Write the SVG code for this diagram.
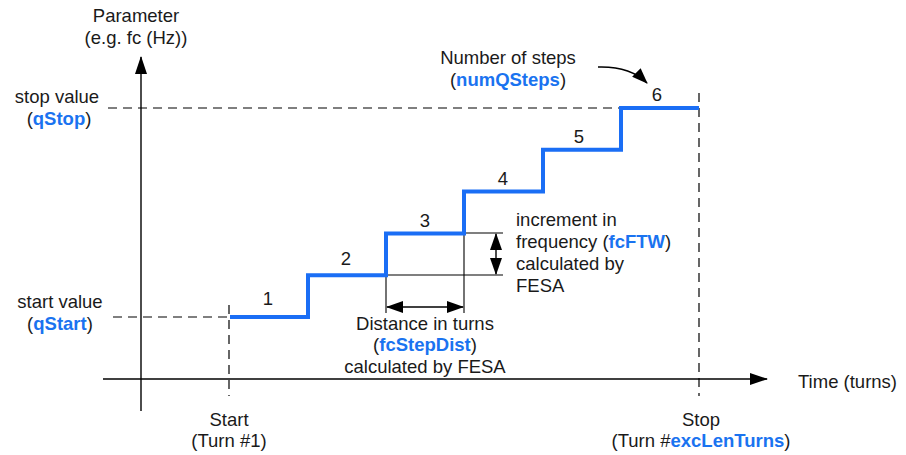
<svg xmlns="http://www.w3.org/2000/svg" width="906" height="455" viewBox="0 0 906 455">
  <defs>
    <style>
      text { font-family: "Liberation Sans", Arial, sans-serif; font-size: 18.5px; fill: #1a1a1a; }
      .mid { text-anchor: middle; }
      .hl { fill: #1a73f0; font-weight: bold; }
      .axis { stroke: #000; stroke-width: 1.4; fill: none; }
      .dash { stroke: #000; stroke-width: 1.2; stroke-dasharray: 9 6; fill: none; }
      .thin { stroke: #000; stroke-width: 1.1; fill: none; }
      .steps { stroke: #1a6ef5; stroke-width: 4; fill: none; stroke-linejoin: miter; }
      .dim { stroke: #000; stroke-width: 1.4; fill: none; marker-start: url(#head-s); marker-end: url(#head); }
    </style>
    <marker id="axhead" markerWidth="18" markerHeight="12" refX="17" refY="6" orient="auto" markerUnits="userSpaceOnUse">
      <polygon points="0,0 18,6 0,12" fill="#000"/>
    </marker>
    <marker id="head" markerWidth="17" markerHeight="12" refX="16" refY="6" orient="auto" markerUnits="userSpaceOnUse">
      <polygon points="0,0 17,6 0,12" fill="#000"/>
    </marker>
    <marker id="head-s" markerWidth="17" markerHeight="12" refX="1" refY="6" orient="auto" markerUnits="userSpaceOnUse">
      <polygon points="17,0 0,6 17,12" fill="#000"/>
    </marker>
    <marker id="curvehead" markerWidth="16" markerHeight="12" refX="15" refY="6" orient="auto" markerUnits="userSpaceOnUse">
      <polygon points="0,0 16,6 0,12" fill="#000"/>
    </marker>
  </defs>

  <!-- axes, guides and step profile -->
  <g id="connectors">
    <line class="axis" x1="141" y1="411" x2="141" y2="57" marker-end="url(#axhead)"/>
    <line class="axis" x1="103" y1="379" x2="767" y2="379" marker-end="url(#axhead)"/>

    <line class="dash" x1="108" y1="108" x2="699" y2="108"/>
    <line class="dash" x1="113" y1="317" x2="230" y2="317"/>
    <line class="dash" x1="229" y1="305" x2="229" y2="396"/>
    <line class="dash" x1="699" y1="93" x2="699" y2="396"/>

    <!-- step helper lines -->
    <line class="thin" x1="464" y1="233" x2="503" y2="233"/>
    <line class="thin" x1="386" y1="275" x2="503" y2="275"/>
    <line class="thin" x1="386" y1="275" x2="386" y2="313"/>
    <line class="thin" x1="464" y1="233" x2="464" y2="313"/>
    <line class="dim" x1="387" y1="307" x2="463" y2="307"/>
    <line class="dim" x1="496" y1="234" x2="496" y2="274"/>

    <path class="steps" d="M230,317 H308 V275.2 H386 V233.4 H464 V191.6 H543 V149.8 H621 V108 H699"/>

    <path d="M598,67 Q630,66 647,83" stroke="#000" stroke-width="1.4" fill="none" marker-end="url(#curvehead)"/>
  </g>

  <g id="axis-labels">
    <text class="mid" x="136" y="22">Parameter</text>
    <text class="mid" x="136" y="44">(e.g. fc (Hz))</text>
    <text x="798" y="388">Time (turns)</text>
  </g>

  <g id="stop-value">
    <text class="mid" x="57" y="103">stop value</text>
    <text class="mid" x="59" y="125">(<tspan class="hl">qStop</tspan>)</text>
  </g>

  <g id="start-value">
    <text class="mid" x="60" y="308">start value</text>
    <text class="mid" x="60" y="330">(<tspan class="hl">qStart</tspan>)</text>
  </g>

  <g id="start">
    <text class="mid" x="229" y="426">Start</text>
    <text class="mid" x="229" y="447">(Turn #1)</text>
  </g>

  <g id="stop">
    <text class="mid" x="701" y="426">Stop</text>
    <text class="mid" x="701" y="447">(Turn #<tspan class="hl">excLenTurns</tspan>)</text>
  </g>

  <g id="num-steps">
    <text class="mid" x="508" y="64">Number of steps</text>
    <text class="mid" x="508" y="86">(<tspan class="hl">numQSteps</tspan>)</text>
  </g>

  <g id="step-numbers">
    <text class="mid" x="268" y="305">1</text>
    <text class="mid" x="346" y="265">2</text>
    <text class="mid" x="425" y="227">3</text>
    <text class="mid" x="503" y="185">4</text>
    <text class="mid" x="579" y="143">5</text>
    <text class="mid" x="657" y="101">6</text>
  </g>

  <g id="increment">
    <text x="516" y="226">increment in</text>
    <text x="516" y="248">frequency (<tspan class="hl">fcFTW</tspan>)</text>
    <text x="516" y="270">calculated by</text>
    <text x="516" y="292">FESA</text>
  </g>

  <g id="distance">
    <text class="mid" x="425" y="330">Distance in turns</text>
    <text class="mid" x="425" y="351">(<tspan class="hl">fcStepDist</tspan>)</text>
    <text class="mid" x="425" y="373">calculated by FESA</text>
  </g>
</svg>
